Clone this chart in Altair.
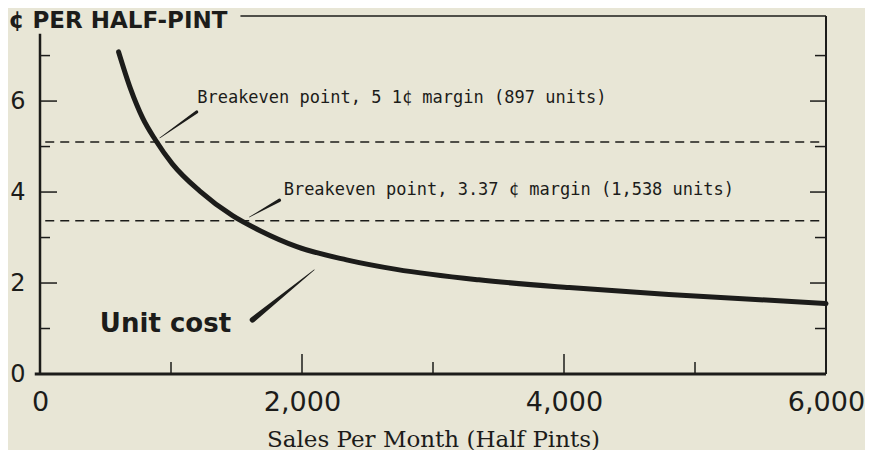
import altair as alt
import pandas as pd

# ---- data ----
units = [600, 690, 785, 880, 1010, 1220, 1470, 1680, 1960, 2340, 2720, 3350, 4040, 4800, 6000]
unit_cost = [7.08, 6.28, 5.62, 5.15, 4.62, 4.02, 3.48, 3.15, 2.80, 2.51, 2.30, 2.07, 1.90, 1.75, 1.55]

breakeven_margin = [5.1, 3.37]
breakeven_text = ["Breakeven point, 5 1\u00a2 margin (897 units)",
                  "Breakeven point, 3.37 \u00a2 margin (1,538 units)"]
breakeven_text_x = [1200, 1860]
breakeven_text_y = [6.07, 4.05]

# leader lines: start (x, y) -> end (x, y)
leader_x1 = [914, 1599, 1622]
leader_y1 = [5.19, 3.45, 1.19]
leader_x2 = [1196, 1828, 2094]
leader_y2 = [5.76, 3.82, 2.29]
leader_w1 = [0.6, 0.6, 5.5]
leader_w2 = [3.2, 3.2, 0.6]

unit_label = "Unit cost"
unit_label_x = [457]
unit_label_y = [1.10]

x_labels = [0, 2000, 4000, 6000]
x_major = [2000, 4000]
x_minor = [1000, 3000, 5000]
y_labels = [0, 2, 4, 6]
y_major = [2, 4, 6]
y_minor = [1, 3, 5, 7]

X_MAX = 6000
Y_MAX = 7.87
Y_LEFT_TOP = 7.48
TOP_LINE_START = 1530

W, H = 786, 358
INK = "#1c1c1a"
BG = "#e8e6d6"
SANS = "DejaVu Sans"

xs = alt.Scale(domain=[0, X_MAX], nice=False, zero=False)
ys = alt.Scale(domain=[0, Y_MAX], nice=False, zero=False)

AX = alt.Axis(
    values=x_labels, format=",.0f", labelFont=SANS, labelFontSize=27,
    labelColor=INK, labelPadding=15, labelFlush=False, domain=False,
    ticks=False, grid=False, title="Sales Per Month (Half Pints)",
    titleFont="DejaVu Serif", titleFontSize=23, titleFontWeight="normal",
    titleColor=INK, titlePadding=13)
AY = alt.Axis(
    values=y_labels, labelFont=SANS, labelFontSize=24, labelColor=INK,
    labelPadding=15, domain=False, ticks=False, grid=False,
    title="\u00a2 PER HALF-PINT", titleAngle=0, titleAlign="left",
    titleBaseline="middle", titleX=-32, titleY=4, titleFont=SANS,
    titleFontSize=23, titleFontWeight="bold", titleColor=INK)


def X(field="x:Q"):
    return alt.X(field, scale=xs, axis=AX)


def Y(field="y:Q"):
    return alt.Y(field, scale=ys, axis=AY)


curve_df = pd.DataFrame({"x": units, "y": unit_cost})
curve = alt.Chart(curve_df).mark_line(
    color=INK, strokeWidth=5, interpolate="monotone", strokeCap="round"
).encode(x=X(), y=Y())

# dashed breakeven lines
be_df = pd.DataFrame({"y": breakeven_margin, "x": [40] * 2, "x2": [5950] * 2})
dashed = alt.Chart(be_df).mark_rule(
    color=INK, strokeWidth=1.5, strokeDash=[9, 6]
).encode(x=X(), x2="x2:Q", y=Y())

be_txt_df = pd.DataFrame({"x": breakeven_text_x, "y": breakeven_text_y, "t": breakeven_text})
be_txt = alt.Chart(be_txt_df).mark_text(
    align="left", baseline="middle", font="DejaVu Sans Mono", fontSize=17, color=INK
).encode(x=X(), y=Y(), text="t:N")

unit_df = pd.DataFrame({"x": unit_label_x, "y": unit_label_y, "t": [unit_label]})
unit_txt = alt.Chart(unit_df).mark_text(
    align="left", baseline="middle", font=SANS, fontSize=26,
    fontWeight="bold", color=INK
).encode(x=X(), y=Y(), text="t:N")

# tapered leader lines
rows = []
for i in range(len(leader_x1)):
    rows.append({"g": i, "o": 0, "x": leader_x1[i], "y": leader_y1[i], "w": leader_w1[i]})
    rows.append({"g": i, "o": 1, "x": leader_x2[i], "y": leader_y2[i], "w": leader_w2[i]})
lead_df = pd.DataFrame(rows)
leaders = alt.Chart(lead_df).mark_trail(color=INK).encode(
    x=X(), y=Y(),
    size=alt.Size("w:Q", scale=None, legend=None),
    detail="g:N",
    order="o:Q",
)

# frame lines
vert_df = pd.DataFrame({"x": [0, X_MAX], "y": [0, 0], "y2": [Y_LEFT_TOP, Y_MAX], "sw": [2.5, 2]})
vert = alt.Chart(vert_df).mark_rule(color=INK).encode(
    x=X(), y=Y(), y2="y2:Q",
    strokeWidth=alt.StrokeWidth("sw:Q", scale=None, legend=None),
)
horiz_df = pd.DataFrame({"y": [0, Y_MAX], "x": [-40, TOP_LINE_START], "x2": [X_MAX, X_MAX], "sw": [2.8, 1.5]})
horiz = alt.Chart(horiz_df).mark_rule(color=INK).encode(
    x=X(), x2="x2:Q", y=Y(),
    strokeWidth=alt.StrokeWidth("sw:Q", scale=None, legend=None),
)


# inward ticks
def ytick(vals, x0, x1):
    return alt.Chart(pd.DataFrame({"y": vals})).mark_rule(color=INK, strokeWidth=1.5).encode(
        y=Y(), x=alt.value(x0), x2=alt.value(x1))


def xtick(vals, length):
    return alt.Chart(pd.DataFrame({"x": vals})).mark_rule(color=INK, strokeWidth=1.5).encode(
        x=X(), y=alt.value(H), y2=alt.value(H - length))


ticks = [
    ytick(y_major, 0, 17), ytick(y_minor, 0, 10),
    ytick(y_major, W - 16, W), ytick(y_minor, W - 11, W),
    xtick(x_major, 20), xtick(x_minor, 12),
]

chart = alt.layer(
    curve, dashed, be_txt, unit_txt, leaders, vert, horiz, *ticks
).properties(
    width=W, height=H,
    padding={"left": 32, "top": 8, "right": 39, "bottom": 76},
    autosize=alt.AutoSizeParams(type="none"),
    background=BG,
).configure_view(stroke=None)

chart.save("out.html", embed_options={"renderer": "svg", "actions": False})
